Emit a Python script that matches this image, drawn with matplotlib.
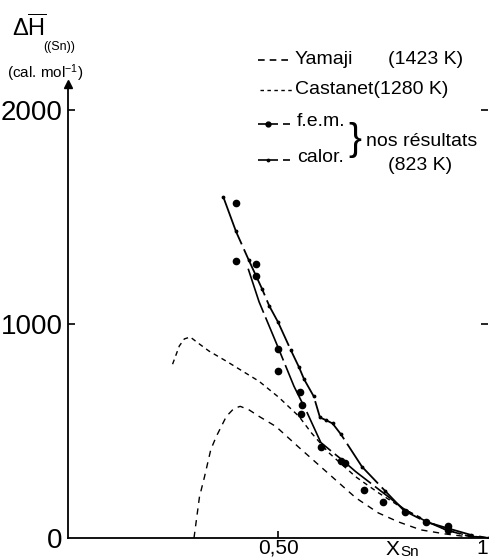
import matplotlib
matplotlib.use("Agg")
import matplotlib.pyplot as plt

plt.rcParams['font.family'] = ['Liberation Sans', 'DejaVu Sans']
plt.rcParams['mathtext.fontset'] = 'custom'
plt.rcParams['mathtext.rm'] = 'Liberation Sans'
plt.rcParams['mathtext.it'] = 'Liberation Sans'

# ---- data ----
yamaji_x = [0.30, 0.313, 0.325, 0.34, 0.353, 0.377, 0.395, 0.41, 0.43, 0.455, 0.495, 0.55, 0.604, 0.685, 0.739, 0.787, 0.84, 0.898, 0.95, 1.0]
yamaji_y = [0, 192, 286, 413, 474, 568, 605, 615, 600, 568, 521, 423, 329, 188, 117, 75, 38, 19, 6, 0]

castanet_x = [0.249, 0.265, 0.277, 0.291, 0.313, 0.336, 0.377, 0.455, 0.502, 0.55, 0.58, 0.62, 0.685, 0.74, 0.80, 0.85, 0.90, 0.95, 1.0]
castanet_y = [812, 897, 930, 939, 906, 873, 826, 732, 657, 568, 490, 400, 286, 210, 135, 85, 38, 12, 0]

calor_x = [0.37, 0.40, 0.43, 0.462, 0.479, 0.50, 0.53, 0.55, 0.562, 0.585, 0.60, 0.615, 0.63, 0.65, 0.70, 0.755, 0.80, 0.853, 0.905, 0.96, 1.0]
calor_y = [1592, 1432, 1300, 1164, 1085, 1009, 880, 798, 742, 662, 563, 550, 535, 484, 333, 220, 128, 75, 45, 14, 0]

fem_line_x = [0.429, 0.455, 0.495, 0.538, 0.569, 0.602, 0.628, 0.652, 0.685, 0.732, 0.763, 0.80, 0.85, 0.90, 0.95, 1.0]
fem_line_y = [1258, 1103, 915, 709, 587, 446, 404, 366, 310, 239, 192, 135, 80, 38, 10, 0]

fem_pts_x = [0.40, 0.40, 0.447, 0.448, 0.50, 0.50, 0.552, 0.557, 0.554, 0.602, 0.649, 0.659, 0.704, 0.751, 0.802, 0.853, 0.905, 0.905]
fem_pts_y = [1563, 1296, 1282, 1225, 883, 779, 681, 620, 577, 427, 362, 352, 225, 169, 122, 75, 58, 38]

yticks = [0, 1000, 2000]
ytick_labels = ["0", "1000", "2000"]
xticks = [0.5, 1.0]
xtick_labels = ["0,50", "1"]

W, H = 490, 560
fig = plt.figure(figsize=(W / 100, H / 100), dpi=100)
ax = fig.add_axes([68 / W, 1 - 538 / H, 420 / W, (538 - 84) / H])
ax.set_xlim(0, 1)
ax.set_ylim(0, 2121)

ax.plot(yamaji_x, yamaji_y, color='black', lw=1.0, dashes=(4.5, 4))
ax.plot(castanet_x, castanet_y, color='black', lw=1.0, dashes=(3.5, 3))
ax.plot(calor_x, calor_y, color='black', lw=1.3, dashes=(28, 3),
        marker='.', ms=3.5)
ax.plot(fem_line_x, fem_line_y, color='black', lw=1.2, dashes=(28, 3))
ax.plot(fem_pts_x, fem_pts_y, 'o', color='black', ms=4.5, ls='none')

for s in ['top', 'right']:
    ax.spines[s].set_visible(False)
ax.spines['left'].set_linewidth(1.3)
ax.spines['bottom'].set_linewidth(1.3)

ax.set_yticks(yticks)
ax.set_yticklabels(ytick_labels, fontsize=20)
ax.set_xticks(xticks)
ax.set_xticklabels(xtick_labels, fontsize=15)
ax.tick_params(axis='y', direction='in', length=5, width=1.2, pad=4,
               right=True)
ax.tick_params(axis='x', direction='in', length=5, width=1.2, pad=0.5)
for t in ax.yaxis.get_major_ticks():
    if t.get_loc() == 0:
        t.tick1line.set_visible(False)
        t.tick2line.set_visible(False)
for t in ax.xaxis.get_major_ticks():
    if t.get_loc() == 1.0:
        t.tick1line.set_visible(False)
ax.get_xticklabels()[1].set_ha('right')

# arrow on y axis
ax.plot([0], [1], marker='^', color='black', ms=6, transform=ax.transAxes,
        clip_on=False)

def fx(px):
    return px / W

def fy(py):
    return 1 - py / H

# axis titles
fig.text(fx(12), fy(36), r'$\Delta\overline{\mathrm{H}}$', fontsize=17, va='baseline')
fig.text(fx(43), fy(50), '((Sn))', fontsize=9, va='baseline')
fig.text(fx(7), fy(78), r'(cal. mol$^{-1}$)', fontsize=11, va='baseline')
fig.text(fx(386), fy(559), 'X', fontsize=15, va='bottom')
fig.text(fx(400), fy(559), 'Sn', fontsize=11, va='bottom')

# legend drawn by hand
fs = 14
fig.add_artist(plt.Line2D([fx(258), fx(291)], [fy(60), fy(60)], color='black', lw=1.2, dashes=(4, 3)))
fig.text(fx(295), fy(60), 'Yamaji', fontsize=fs, va='center')
fig.text(fx(388), fy(60), '(1423 K)', fontsize=fs, va='center')
fig.add_artist(plt.Line2D([fx(260), fx(292)], [fy(90), fy(90)], color='black', lw=1.0, dashes=(2.5, 2.5)))
fig.text(fx(295), fy(90), 'Castanet(1280 K)', fontsize=fs, va='center')
fig.add_artist(plt.Line2D([fx(258), fx(290)], [fy(124), fy(124)], color='black', lw=1.2, dashes=(12, 3)))
fig.add_artist(plt.Line2D([fx(268)], [fy(124)], color='black', marker='o', ms=3.5, ls='none'))
fig.text(fx(297), fy(122), 'f.e.m.', fontsize=fs, va='center')
fig.add_artist(plt.Line2D([fx(258), fx(290)], [fy(160), fy(160)], color='black', lw=1.2, dashes=(12, 3)))
fig.add_artist(plt.Line2D([fx(268)], [fy(160)], color='black', marker='.', ms=3.5, ls='none'))
fig.text(fx(297), fy(158), 'calor.', fontsize=fs, va='center')
fig.text(fx(348), fy(140), '}', fontsize=28, va='center')
fig.text(fx(366), fy(142), 'nos résultats', fontsize=fs, va='center')
fig.text(fx(388), fy(165), '(823 K)', fontsize=fs, va='center')

fig.savefig('out.png', dpi=100)
